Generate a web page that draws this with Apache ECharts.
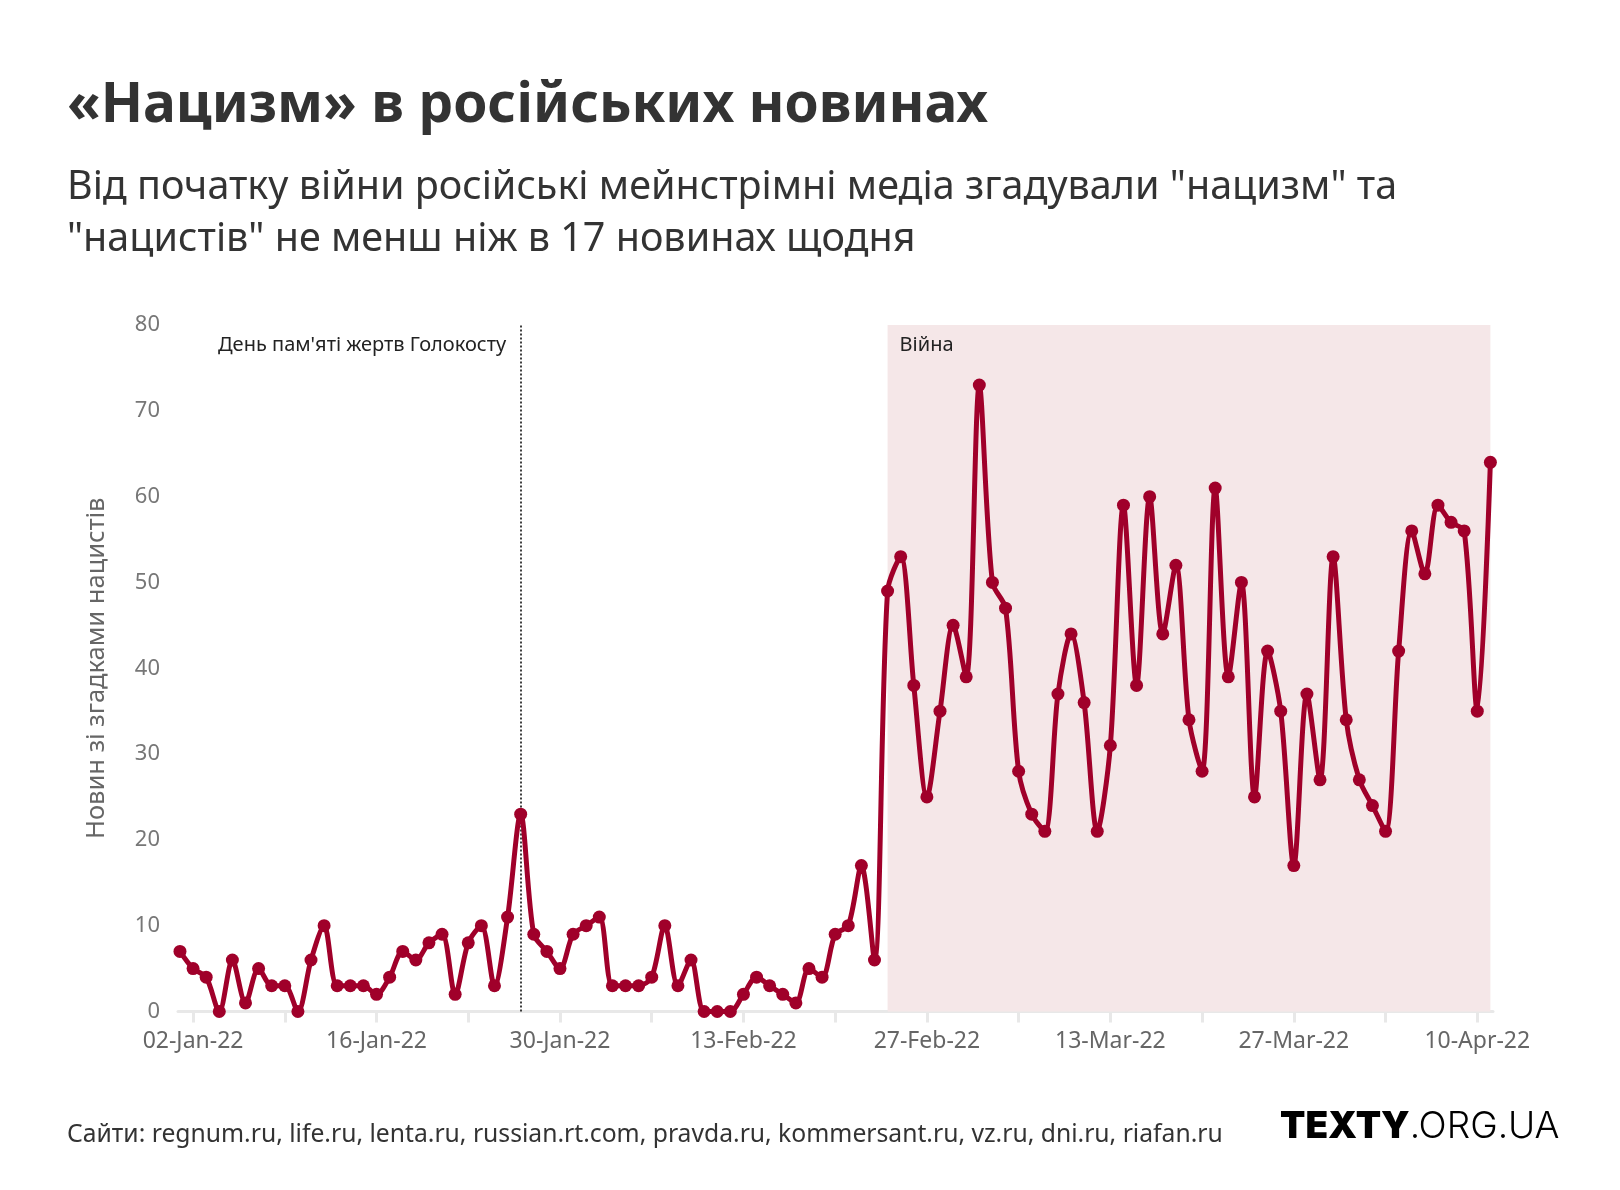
<!DOCTYPE html>
<html>
<head>
<meta charset="utf-8">
<script src="https://cdn.jsdelivr.net/npm/echarts@6/dist/echarts.min.js"></script>
<style>
  html, body { margin: 0; padding: 0; background: #fff; }
  #chart { width: 1620px; height: 1190px; }
</style>
</head>
<body>
<div id="chart"></div>
<script>
// ---- Data ----
const startDate = '2022-01-01'; // first daily observation
const values = [
  7, 5, 4, 0, 6, 1, 5, 3, 3, 0, 6, 10, 3, 3, 3, 2, 4, 7, 6, 8, 9, 2, 8, 10, 3, 11, 23, 9, 7, 5, 9,   // Jan
  10, 11, 3, 3, 3, 4, 10, 3, 6, 0, 0, 0, 2, 4, 3, 2, 1, 5, 4, 9, 10, 17, 6, 49, 53, 38, 25, 35,       // Feb
  45, 39, 73, 50, 47, 28, 23, 21, 37, 44, 36, 21, 31, 59, 38, 60, 44, 52, 34, 28, 61, 39, 50, 25, 42, 35, 17, 37, 27, 53, 34, // Mar
  27, 24, 21, 42, 56, 51, 59, 57, 56, 35, 64 // Apr
];
const tickDates = ['2022-01-02','2022-01-09','2022-01-16','2022-01-23','2022-01-30','2022-02-06','2022-02-13',
  '2022-02-20','2022-02-27','2022-03-06','2022-03-13','2022-03-20','2022-03-27','2022-04-03','2022-04-10'];
const labelDates = ['2022-01-02','2022-01-16','2022-01-30','2022-02-13','2022-02-27','2022-03-13','2022-03-27','2022-04-10'];
const tickLabels = ['02-Jan-22','16-Jan-22','30-Jan-22','13-Feb-22','27-Feb-22','13-Mar-22','27-Mar-22','10-Apr-22'];
const yTicks = [0, 10, 20, 30, 40, 50, 60, 70, 80];
const holocaustDate = '2022-01-27';
const warStart = '2022-02-24';
const warEnd = '2022-04-11';

const titleText = '«Нацизм» в російських новинах';
const subtitleText = 'Від початку війни російські мейнстрімні медіа згадували "нацизм" та\n"нацистів" не менш ніж в 17 новинах щодня';
const yName = 'Новин зі згадками нацистів';
const holocaustLabel = "День пам'яті жертв Голокосту";
const warLabel = 'Війна';
const sourceText = 'Сайти: regnum.ru, life.ru, lenta.ru, russian.rt.com, pravda.ru, kommersant.ru, vz.ru, dni.ru, riafan.ru';

// ---- Helpers ----
function dayIndex(d) {
  const [y, m, dd] = d.split('-').map(Number);
  const [y0, m0, d0] = startDate.split('-').map(Number);
  return Math.round((Date.UTC(y, m - 1, dd) - Date.UTC(y0, m0 - 1, d0)) / 86400000);
}
const seriesData = values.map((v, i) => [i, v]);
const tickDays = tickDates.map(dayIndex);
const labelDays = labelDates.map(dayIndex);
const labelMap = {};
labelDays.forEach((d, i) => { labelMap[d] = tickLabels[i]; });

const RED = '#a0002a';
const FONT = '"Noto Sans", "Open Sans", sans-serif';

const chart = echarts.init(document.getElementById('chart'), null, { renderer: 'canvas' });
chart.setOption({
  backgroundColor: '#ffffff',
  animation: false,
  textStyle: { fontFamily: FONT },
  title: [
    {
      text: titleText, left: 62, top: 74,
      textStyle: { fontFamily: FONT, fontSize: 55, fontWeight: 'bold', color: '#333333' }
    },
    {
      text: subtitleText, left: 62, top: 157,
      textStyle: { fontFamily: FONT, fontSize: 39.5, fontWeight: 'normal', color: '#333333', lineHeight: 52 }
    },
    {
      text: sourceText, left: 62, top: 1117,
      textStyle: { fontFamily: FONT, fontSize: 24.7, fontWeight: 'normal', color: '#333333' }
    }
  ],
  graphic: [
    {
      type: 'text', left: 1280, top: 1108,
      style: {
        text: '{b|TEXTY}{l|.ORG.UA}',
        rich: {
          b: { fontFamily: 'Inter, "Noto Sans", sans-serif', fontSize: 37, fontWeight: 900, fill: '#000' },
          l: { fontFamily: 'Inter, "Noto Sans", sans-serif', fontSize: 37, fontWeight: 300, fill: '#000' }
        }
      }
    }
  ],
  grid: { left: 178, right: 127, top: 325, bottom: 178.5, containLabel: false },
  xAxis: {
    type: 'value',
    min: -0.15, max: 100.2,
    splitLine: { show: false },
    axisLine: { show: true, lineStyle: { color: '#e8e8e8', width: 3 } },
    axisTick: { show: true, customValues: tickDays, length: 11, lineStyle: { color: '#e8e8e8', width: 3 } },
    axisLabel: {
      customValues: labelDays,
      formatter: v => labelMap[Math.round(v)] || '',
      color: '#666666', fontSize: 23, margin: 18, fontFamily: FONT
    }
  },
  yAxis: {
    type: 'value', min: 0, max: 80, interval: 10,
    splitLine: { show: false },
    axisLine: { show: false },
    axisTick: { show: false },
    axisLabel: { color: '#777777', fontSize: 22, margin: 18, fontFamily: FONT },
    name: yName, nameLocation: 'middle', nameRotate: 90, nameGap: 68,
    nameTextStyle: { color: '#666666', fontSize: 25.5, fontFamily: FONT }
  },
  series: [{
    type: 'line',
    data: seriesData,
    smooth: 0.3,
    symbol: 'circle',
    symbolSize: 13,
    showAllSymbol: true,
    lineStyle: { color: RED, width: 5 },
    itemStyle: { color: RED },
    z: 5,
    markArea: {
      silent: true,
      itemStyle: { color: '#f5e7e8' },
      label: {
        show: true, position: [12, 10], color: '#222222', fontSize: 20, fontFamily: FONT
      },
      data: [[{ xAxis: dayIndex(warStart), name: warLabel }, { xAxis: dayIndex(warEnd) }]]
    },
    markLine: {
      silent: true,
      symbol: ['none', 'none'],
      label: { show: false },
      lineStyle: { color: '#000000', type: [2, 2], width: 1.5 },
      data: [{ xAxis: dayIndex(holocaustDate) }]
    },
    markPoint: {
      silent: true,
      symbol: 'circle', symbolSize: 1,
      itemStyle: { color: 'rgba(0,0,0,0)' },
      label: {
        show: true, position: 'left', distance: 14, offset: [0, 20],
        color: '#222222', fontSize: 20, fontFamily: FONT,
        formatter: holocaustLabel
      },
      data: [{ coord: [dayIndex(holocaustDate), 80] }]
    }
  }]
});
</script>
</body>
</html>
